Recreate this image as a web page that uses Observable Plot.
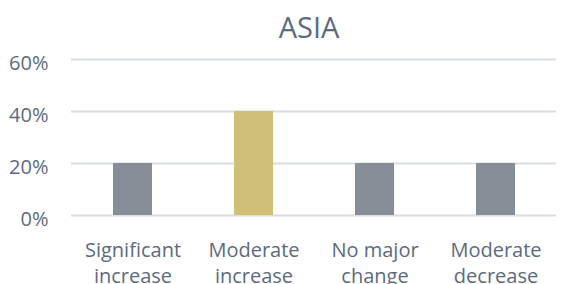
<!DOCTYPE html>
<html>
<head>
<meta charset="utf-8">
<script src="https://cdn.jsdelivr.net/npm/d3@7"></script>
<script src="https://cdn.jsdelivr.net/npm/@observablehq/plot@0.6"></script>
<style>
  html, body { margin: 0; padding: 0; background: #fff; }
  #chart svg { display: block; }
</style>
</head>
<body>
<div id="chart"></div>
<script>
const title = "ASIA";
const categories = ["Significant increase", "Moderate increase", "No major change", "Moderate decrease"];
const values = [0.20, 0.40, 0.20, 0.20];
const highlighted = "Moderate increase";
const yTicks = [0, 0.2, 0.4, 0.6];

const data = categories.map((c, i) => ({category: c, value: values[i]}));

const textColor = "#5b6b7e";
const gray = "#878d96";
const gold = "#cfbf78";
const gridColor = "#d8dee3";

const chart = Plot.plot({
  width: 584,
  height: 284,
  marginLeft: 71,
  marginRight: 28,
  marginTop: 59,
  marginBottom: 69,
  style: {fontFamily: "'Open Sans', sans-serif", color: textColor, background: "#fff"},
  x: {type: "band", domain: categories, paddingInner: 0.68, paddingOuter: 0.34, label: null},
  y: {domain: [0, 0.6], label: null},
  marks: [
    Plot.gridY(yTicks, {stroke: gridColor, strokeOpacity: 1, strokeWidth: 2}),
    Plot.barY(data, {x: "category", y: "value", fill: d => d.category === highlighted ? gold : gray}),
    Plot.axisY(yTicks, {label: null, tickSize: 0, tickPadding: 23, tickFormat: d => Math.round(d * 100) + "%", fontSize: 20, dy: 4, fill: textColor}),
    Plot.axisX({label: null, tickSize: 0, tickPadding: 23, tickFormat: d => d.replace(/ (\S+)$/, "\n$1"), fontSize: 20, lineHeight: 1.3, fill: textColor}),
    Plot.text([title], {frameAnchor: "top", text: d => d, fontSize: 29, dy: -22, dx: -5, lineAnchor: "bottom", fill: textColor})
  ]
});
document.getElementById("chart").appendChild(chart);
</script>
</body>
</html>
